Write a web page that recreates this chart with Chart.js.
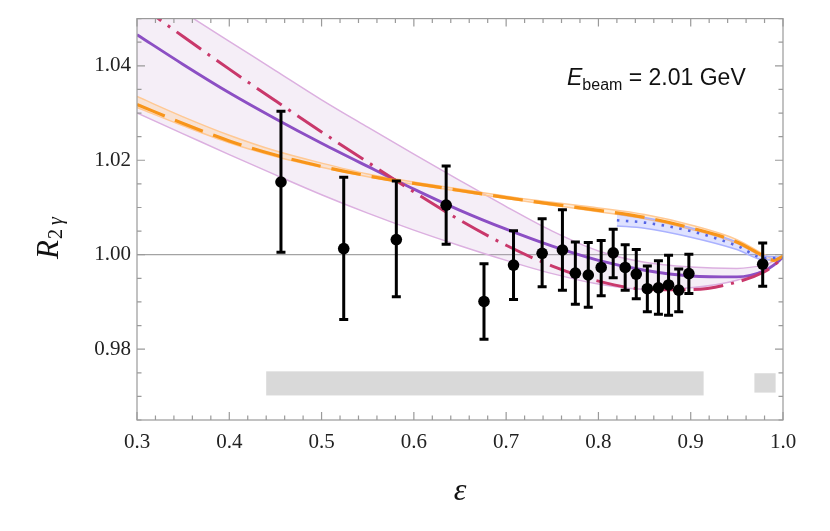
<!DOCTYPE html>
<html>
<head>
<meta charset="utf-8">
<script src="https://cdn.jsdelivr.net/npm/chart.js@4.4.1/dist/chart.umd.min.js"></script>
<style>
  html, body { margin: 0; padding: 0; background: #fff; }
</style>
</head>
<body>
<canvas id="chart" width="830" height="531"></canvas>
<script>
// measured points (epsilon, R_2gamma, upper / lower end of error bar)
const dataEps  = [0.456, 0.524, 0.581, 0.635, 0.676, 0.708, 0.739, 0.761, 0.775, 0.789, 0.803, 0.816, 0.829, 0.841, 0.853, 0.865, 0.876, 0.887, 0.898, 0.978];
const dataR    = [1.0154, 1.0013, 1.0032, 1.0105, 0.9901, 0.9978, 1.0003, 1.0010, 0.9961, 0.9957, 0.9973, 1.0004, 0.9973, 0.9959, 0.9928, 0.9930, 0.9936, 0.9925, 0.9960, 0.9980];
const dataHigh = [1.0304, 1.0164, 1.0156, 1.0188, 0.9981, 1.0051, 1.0076, 1.0095, 1.0027, 1.0026, 1.0030, 1.0054, 1.0021, 1.0011, 0.9976, 0.9987, 0.9999, 0.9970, 1.0001, 1.0025];
const dataLow  = [1.0005, 0.9863, 0.9911, 1.0022, 0.9821, 0.9905, 0.9932, 0.9925, 0.9895, 0.9889, 0.9913, 0.9951, 0.9925, 0.9907, 0.9879, 0.9874, 0.9872, 0.9879, 0.9918, 0.9933];

// systematic uncertainty boxes at the bottom
const sysFrom = [0.440, 0.969];
const sysTo   = [0.914, 0.992];
const sysLow  = [0.9702, 0.9708];
const sysHigh = [0.9753, 0.9749];

// theory curves, all on the same epsilon grid
const curveEps    = [0.30, 0.35, 0.40, 0.45, 0.50, 0.55, 0.60, 0.65, 0.70, 0.75, 0.80, 0.85, 0.90, 0.95, 0.98, 0.99, 1.00];
const purpleMid   = [1.0466, 1.0403, 1.0343, 1.0288, 1.0236, 1.0187, 1.0139, 1.0094, 1.0054, 1.0018, 0.9988, 0.9967, 0.9955, 0.9953, 0.9966, 0.9978, 0.9995];
const purpleUp    = [1.0577, 1.0514, 1.0452, 1.0390, 1.0328, 1.0270, 1.0213, 1.0157, 1.0102, 1.0050, 1.0008, 0.9984, 0.9974, 0.9971, 0.9979, 0.9986, 0.9996];
const purpleDown  = [1.0300, 1.0256, 1.0212, 1.0169, 1.0127, 1.0088, 1.0052, 1.0019, 0.9988, 0.9960, 0.9938, 0.9927, 0.9930, 0.9946, 0.9968, 0.9980, 0.9994];
const crimsonMid  = [1.0533, 1.0462, 1.0393, 1.0326, 1.0260, 1.0196, 1.0133, 1.0073, 1.0020, 0.9976, 0.9944, 0.9927, 0.9926, 0.9942, 0.9964, 0.9977, 0.9994];
const orangeMid   = [1.0318, 1.0278, 1.0241, 1.0211, 1.0187, 1.0167, 1.0151, 1.0136, 1.0121, 1.0107, 1.0094, 1.0079, 1.0057, 1.0027, 0.9996, 0.9988, 0.9997];
const orangeUp    = [1.0335, 1.0292, 1.0253, 1.0220, 1.0194, 1.0171, 1.0154, 1.0139, 1.0124, 1.0111, 1.0099, 1.0085, 1.0063, 1.0032, 1.0000, 0.9991, 0.9998];
const orangeDown  = [1.0312, 1.0273, 1.0237, 1.0208, 1.0185, 1.0165, 1.0149, 1.0134, 1.0119, 1.0105, 1.0091, 1.0076, 1.0054, 1.0024, 0.9993, 0.9986, 0.9996];

const blueEps  = [0.820, 0.85, 0.90, 0.95, 0.98, 1.00];
const blueMid  = [1.0073, 1.0068, 1.0050, 1.0019, 0.9993, 0.9993];
const blueUp   = [1.0086, 1.0079, 1.0057, 1.0027, 0.9998, 0.9995];
const blueDown = [1.0061, 1.0056, 1.0037, 1.0011, 0.9989, 0.9992];

const xTickVals   = [0.3, 0.4, 0.5, 0.6, 0.7, 0.8, 0.9, 1.0];
const xTickLabels = ['0.3', '0.4', '0.5', '0.6', '0.7', '0.8', '0.9', '1.0'];
const yTickVals   = [0.98, 1.00, 1.02, 1.04];
const yTickLabels = ['0.98', '1.00', '1.02', '1.04'];

function pts(xs, ys){
  return xs.map((v, i) => ({x: v, y: ys[i]}));
}

function curve(label, xs, ys, color, width, dash, order, fill, bg){
  return {
    label: label,
    data: pts(xs, ys),
    borderColor: color,
    borderWidth: width,
    borderDash: dash || [],
    backgroundColor: bg || 'transparent',
    fill: fill === undefined ? false : fill,
    pointRadius: 0,
    cubicInterpolationMode: 'monotone',
    order: order
  };
}

const datasets = [
  curve('purple band up', curveEps, purpleUp, '#dcb0e0', 1.5, null, 20, {target: 1}, 'rgba(200,160,210,0.18)'),  // 0
  curve('purple band down', curveEps, purpleDown, '#dcb0e0', 1.5, null, 19),                                         // 1
  curve('orange band up', curveEps, orangeUp, '#ffc994', 1.5, null, 18, {target: 3}, 'rgba(255,205,150,0.35)'),     // 2
  curve('orange band down', curveEps, orangeDown, '#ffc994', 1.5, null, 17),                                         // 3
  curve('blue band up', blueEps, blueUp, '#aab2ff', 1.5, null, 16, {target: 5}, 'rgba(140,150,255,0.28)'),           // 4
  curve('blue band down', blueEps, blueDown, '#aab2ff', 1.5, null, 15),                                              // 5
  curve('purple', curveEps, purpleMid, '#8c4fc4', 2.9, null, 6),
  curve('crimson', curveEps, crimsonMid, '#c9386b', 3, [30, 8, 3, 8], 5),
  curve('orange', curveEps, orangeMid, '#f8951a', 3.2, [30, 11], 4),
  curve('blue', blueEps, blueMid, '#5565e6', 2.6, [2.5, 6.5], 3),
  {
    label: 'data',
    data: pts(dataEps, dataR),
    showLine: false,
    pointRadius: 5.8,
    pointHoverRadius: 5.8,
    pointBackgroundColor: '#000',
    pointBorderWidth: 0,
    order: 0
  }
];

const decor = {
  id: 'decor',
  beforeDatasetsDraw(chart){
    const {ctx, scales: {x, y}} = chart;
    ctx.save();
    ctx.fillStyle = '#d9d9d9';
    for(let i = 0; i < sysFrom.length; i++){
      const x0 = x.getPixelForValue(sysFrom[i]);
      const x1 = x.getPixelForValue(sysTo[i]);
      const y0 = y.getPixelForValue(sysHigh[i]);
      const y1 = y.getPixelForValue(sysLow[i]);
      ctx.fillRect(x0, y0, x1 - x0, y1 - y0);
    }
    ctx.restore();
  },
  afterDatasetsDraw(chart){
    const {ctx, scales: {x, y}} = chart;
    ctx.save();
    ctx.strokeStyle = '#000';
    ctx.lineWidth = 3;
    for(let i = 0; i < dataEps.length; i++){
      const px = x.getPixelForValue(dataEps[i]);
      const top = y.getPixelForValue(dataHigh[i]);
      const bot = y.getPixelForValue(dataLow[i]);
      ctx.beginPath();
      ctx.moveTo(px, top); ctx.lineTo(px, bot);
      ctx.moveTo(px - 4.5, top); ctx.lineTo(px + 4.5, top);
      ctx.moveTo(px - 4.5, bot); ctx.lineTo(px + 4.5, bot);
      ctx.stroke();
    }
    ctx.restore();
  },
  afterDraw(chart){
    const {ctx, chartArea: a, scales: {x, y}} = chart;
    ctx.save();
    // frame
    ctx.strokeStyle = '#9a9a9a';
    ctx.lineWidth = 1.2;
    ctx.strokeRect(a.left, a.top, a.right - a.left, a.bottom - a.top);
    // inward ticks on all four sides
    ctx.beginPath();
    for(let k = 0; k <= 35; k++){
      const v = 0.3 + k * 0.02;
      const px = x.getPixelForValue(v);
      const len = (k % 5 === 0) ? 8 : 4.5;
      ctx.moveTo(px, a.bottom); ctx.lineTo(px, a.bottom - len);
      ctx.moveTo(px, a.top); ctx.lineTo(px, a.top + len);
    }
    for(let k = 0; k <= 17; k++){
      const v = 0.965 + k * 0.005;
      const py = y.getPixelForValue(v);
      const major = Math.abs(v / 0.02 - Math.round(v / 0.02)) < 1e-6;
      const len = major ? 8 : 4.5;
      ctx.moveTo(a.left, py); ctx.lineTo(a.left + len, py);
      ctx.moveTo(a.right, py); ctx.lineTo(a.right - len, py);
    }
    ctx.stroke();

    // y title R_{2 gamma}
    ctx.fillStyle = '#111';
    ctx.translate(58, 259);
    ctx.rotate(-Math.PI / 2);
    ctx.textBaseline = 'alphabetic';
    ctx.font = 'italic 31px "Liberation Serif"';
    ctx.fillText('R', 0, 0);
    let w = ctx.measureText('R').width;
    ctx.font = '20px "Liberation Serif"';
    ctx.fillText('2', w + 1, 4);
    w += ctx.measureText('2').width + 5;
    ctx.font = 'italic 20px "Liberation Serif"';
    ctx.fillText('\u03b3', w, 4);
    ctx.setTransform(1, 0, 0, 1, 0, 0);

    // x title epsilon
    ctx.font = 'italic 32px "Liberation Serif"';
    ctx.textAlign = 'center';
    ctx.fillText('\u03b5', 460, 500);

    // beam energy annotation
    ctx.textAlign = 'left';
    let tx = 567;
    ctx.font = 'italic 23px "Liberation Sans"';
    ctx.fillText('E', tx, 85);
    tx += ctx.measureText('E').width;
    ctx.font = '16px "Liberation Sans"';
    ctx.fillText('beam', tx, 90);
    tx += ctx.measureText('beam').width;
    ctx.font = '23px "Liberation Sans"';
    ctx.fillText(' = 2.01 GeV', tx, 85);
    ctx.restore();
  }
};

new Chart(document.getElementById('chart'), {
  type: 'line',
  data: { datasets: datasets },
  options: {
    responsive: false,
    animation: false,
    devicePixelRatio: 1,
    layout: { padding: { left: 0, top: 18, right: 47, bottom: 0 } },
    plugins: { legend: { display: false }, tooltip: { enabled: false } },
    scales: {
      x: {
        type: 'linear',
        min: 0.3,
        max: 1.0,
        afterFit: s => { s.height = 111; },
        afterBuildTicks: s => { s.ticks = xTickVals.map(v => ({value: v})); },
        grid: { display: false, drawTicks: false },
        border: { display: false },
        ticks: {
          autoSkip: false,
          maxRotation: 0,
          padding: 10,
          color: '#222',
          font: { family: 'Liberation Serif', size: 21 },
          callback: v => xTickLabels[xTickVals.findIndex(t => Math.abs(t - v) < 1e-9)]
        }
      },
      y: {
        type: 'linear',
        min: 0.965,
        max: 1.05,
        afterFit: s => { s.width = 137; },
        afterBuildTicks: s => { s.ticks = yTickVals.map(v => ({value: v})); },
        grid: {
          drawTicks: false,
          lineWidth: 1.2,
          color: c => (c.tick && Math.abs(c.tick.value - 1) < 1e-9) ? '#a3a3a3' : 'rgba(0,0,0,0)'
        },
        border: { display: false },
        ticks: {
          autoSkip: false,
          padding: 6,
          color: '#222',
          font: { family: 'Liberation Serif', size: 21 },
          callback: v => yTickLabels[yTickVals.findIndex(t => Math.abs(t - v) < 1e-9)]
        }
      }
    }
  },
  plugins: [decor]
});
</script>
</body>
</html>
